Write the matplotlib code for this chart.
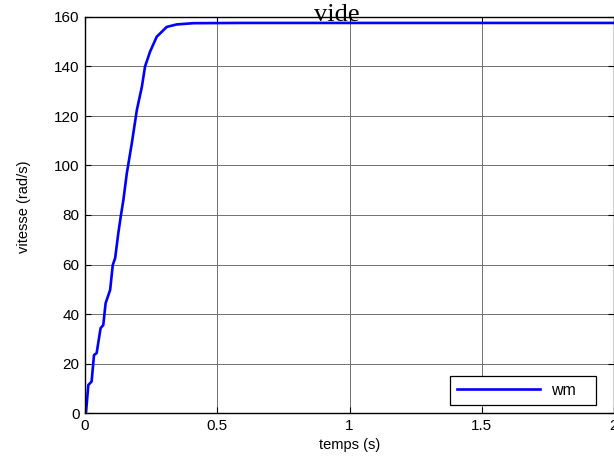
import matplotlib.pyplot as plt

# speed response
t = [0.0, 0.004, 0.0125, 0.025, 0.034, 0.044, 0.059, 0.069, 0.078, 0.095,
     0.105, 0.114, 0.126, 0.135, 0.145, 0.158, 0.177, 0.196, 0.215, 0.227,
     0.246, 0.271, 0.309, 0.347, 0.41, 0.6, 1.0, 1.5, 2.0]
wm = [0.0, 0.4, 11.3, 12.7, 23.4, 24.2, 34.3, 35.5, 44.4, 49.7,
      59.8, 62.6, 72.7, 79.3, 86.0, 96.8, 109.0, 122.4, 131.8, 140.0,
      146.0, 152.0, 156.0, 157.0, 157.5, 157.6, 157.6, 157.6, 157.6]

xticks = [0, 0.5, 1, 1.5, 2]
xticklabels = ['0', '0.5', '1', '1.5', '2']
yticks = [0, 20, 40, 60, 80, 100, 120, 140, 160]

plt.rcParams['font.family'] = ['Liberation Sans', 'DejaVu Sans']

fig = plt.figure(figsize=(6.14, 4.61), dpi=100)
ax = fig.add_axes([85 / 614, 48 / 461, 529 / 614, 396 / 461])

ax.plot(t, wm, color='#0000ff', linewidth=1.9, label='wm')

ax.set_xlim(0, 2)
ax.set_ylim(0, 160)
ax.set_xticks(xticks)
ax.set_xticklabels(xticklabels)
ax.set_yticks(yticks)
ax.tick_params(direction='in', length=4, width=0.8, labelsize=11,
               top=True, right=True, pad=4)

ax.grid(True, color='#707070', linewidth=0.7, linestyle='-')
for s in ax.spines.values():
    s.set_linewidth(1.0)

ax.set_xlabel('temps (s)', fontsize=10.5, labelpad=4)
ax.set_ylabel('vitesse (rad/s)', fontsize=10.5)
ax.yaxis.set_label_coords(-0.102, 0.52)

fig.text(337 / 614, 440 / 461, 'vide', ha='center', va='baseline',
         fontsize=19, family='Liberation Serif')

leg = ax.legend(loc='lower right', bbox_to_anchor=(0.966, 0.02),
                borderaxespad=0, handlelength=5.2, fontsize=11.5,
                fancybox=False, framealpha=1, edgecolor='black',
                borderpad=0.45, handletextpad=0.65)
leg.get_texts()[0].set_text('wm   ')
leg.get_frame().set_linewidth(0.9)

fig.savefig('out.png', dpi=100)
